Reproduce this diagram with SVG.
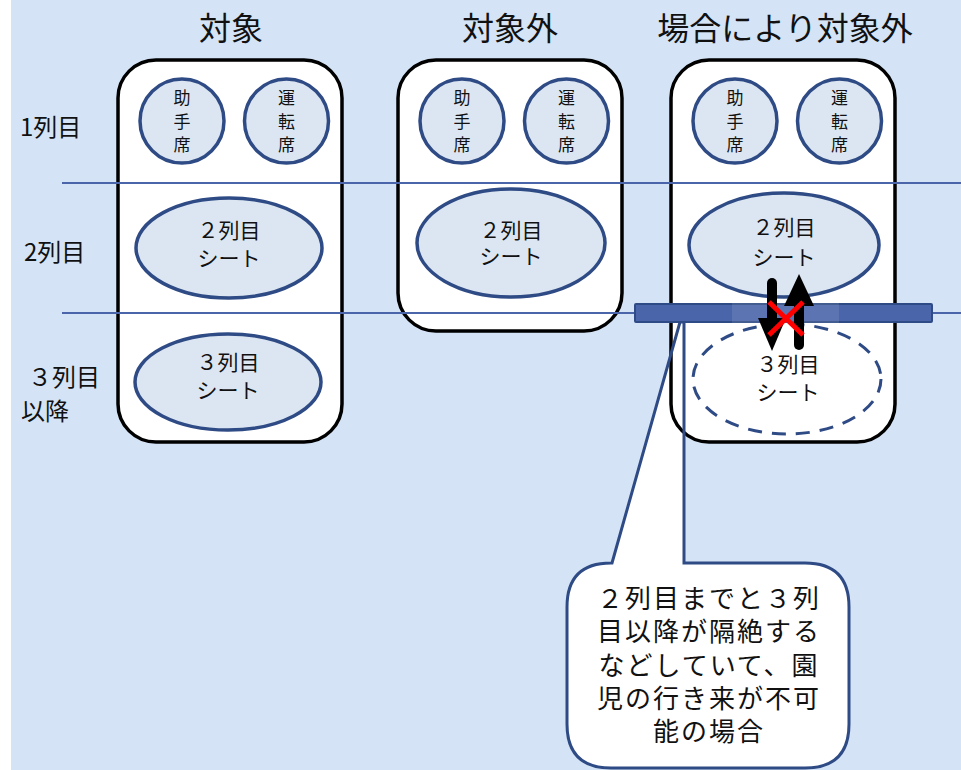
<svg xmlns="http://www.w3.org/2000/svg" width="961" height="770" viewBox="0 0 961 770">
<style>
text{font-family:"Noto Sans CJK JP","Noto Sans",sans-serif;fill:#111;text-anchor:middle}
.title{font-size:32px}
.row{font-size:24px;text-anchor:start}
.seat{font-size:17px}
.el{font-size:21px}
.call{font-size:26px;letter-spacing:2px}
.box{fill:#fff;stroke:#000;stroke-width:3.5}
.circ{fill:#dce6f2;stroke:#2f4b85;stroke-width:3.5}
.dash{fill:#fff;stroke:#2f4b85;stroke-width:3;stroke-dasharray:14 10}
.hl{stroke:#4a65aa;stroke-width:1.8}
</style>
<defs>
<path id="callout" d="M612,563 L680,322 L684,322 L684,563 L805,563 Q849,563 849,607 L849,724 Q849,768 805,768 L611,768 Q567,768 567,724 L567,607 Q567,563 611,563 Z"/>
</defs>
<rect x="0" y="0" width="961" height="770" fill="#fff"/>
<rect x="11" y="0" width="950" height="770" fill="#d4e4f6"/>

<text class="title" x="231" y="40">対象</text>
<text class="title" x="510" y="40">対象外</text>
<text class="title" x="785" y="40">場合により対象外</text>

<text class="row" x="20" y="136">1列目</text>
<text class="row" x="24" y="261">2列目</text>
<text class="row" x="28" y="386">３列目</text>
<text class="row" x="21" y="420">以降</text>

<use href="#callout" fill="#fff"/>

<g id="box1">
<rect class="box" x="118" y="60" width="224" height="382" rx="38"/>
<circle class="circ" cx="182" cy="121" r="42"/>
<text class="seat" x="182" y="104">助</text><text class="seat" x="182" y="128">手</text><text class="seat" x="182" y="151">席</text>
<circle class="circ" cx="286.5" cy="121" r="42"/>
<text class="seat" x="286.5" y="104">運</text><text class="seat" x="286.5" y="128">転</text><text class="seat" x="286.5" y="151">席</text>
<ellipse class="circ" cx="229" cy="248" rx="93" ry="50"/>
<text class="el" x="229" y="238">２列目</text><text class="el" x="229" y="266">シート</text>
<ellipse class="circ" cx="228" cy="382" rx="93" ry="48"/>
<text class="el" x="228" y="370">３列目</text><text class="el" x="228" y="398">シート</text>
</g>

<g id="box2">
<rect class="box" x="398" y="60" width="224" height="271" rx="38"/>
<circle class="circ" cx="462" cy="121" r="42"/>
<text class="seat" x="462" y="104">助</text><text class="seat" x="462" y="128">手</text><text class="seat" x="462" y="151">席</text>
<circle class="circ" cx="566.5" cy="121" r="42"/>
<text class="seat" x="566.5" y="104">運</text><text class="seat" x="566.5" y="128">転</text><text class="seat" x="566.5" y="151">席</text>
<ellipse class="circ" cx="511" cy="243" rx="94" ry="54"/>
<text class="el" x="511" y="238">２列目</text><text class="el" x="511" y="264">シート</text>
</g>

<g id="box3">
<rect class="box" x="671" y="60" width="224" height="382" rx="38"/>
<circle class="circ" cx="735" cy="121" r="42"/>
<text class="seat" x="735" y="104">助</text><text class="seat" x="735" y="128">手</text><text class="seat" x="735" y="151">席</text>
<circle class="circ" cx="839.5" cy="121" r="42"/>
<text class="seat" x="839.5" y="104">運</text><text class="seat" x="839.5" y="128">転</text><text class="seat" x="839.5" y="151">席</text>
<ellipse class="circ" cx="784" cy="245" rx="95" ry="52"/>
<text class="el" x="784" y="235">２列目</text><text class="el" x="784" y="265">シート</text>
<ellipse class="dash" cx="787" cy="379" rx="94" ry="55"/>
<text class="el" x="788" y="372">３列目</text><text class="el" x="788" y="400">シート</text>
</g>

<g id="connectors">
<line class="hl" x1="62" y1="183" x2="961" y2="183"/>
<line class="hl" x1="62" y1="313" x2="961" y2="313"/>
</g>

<g id="callout-box">
<use href="#callout" fill="none" stroke="#2f4b85" stroke-width="3"/>
<text class="call" x="709" y="608">２列目までと３列</text>
<text class="call" x="709" y="641">目以降が隔絶する</text>
<text class="call" x="709" y="675">などしていて、園</text>
<text class="call" x="709" y="708">児の行き来が不可</text>
<text class="call" x="709" y="741">能の場合</text>
</g>

<g id="barrier">
<rect x="635" y="304" width="297" height="18" fill="#4a65aa" stroke="#2f4b85" stroke-width="2" rx="1"/>
<rect x="732" y="303" width="107" height="20" fill="#fff" opacity="0.1"/>
<line x1="772" y1="283" x2="772" y2="320" stroke="#000" stroke-width="10" stroke-linecap="round"/>
<polygon points="758,318 786,318 772,351" fill="#000"/>
<line x1="799" y1="304" x2="799" y2="345" stroke="#000" stroke-width="10" stroke-linecap="round"/>
<polygon points="784,306 814,306 799,274" fill="#000"/>
<path d="M769,302 L803,335 M803,302 L769,335" stroke="#f00" stroke-width="5"/>
</g>
</svg>
